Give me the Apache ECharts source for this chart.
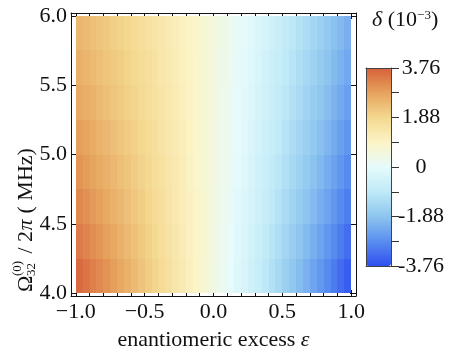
<!DOCTYPE html>
<html><head><meta charset="utf-8">
<script src="https://cdn.jsdelivr.net/npm/echarts@6/dist/echarts.min.js"></script>
<style>html,body{margin:0;padding:0;background:#fff}#c{width:456px;height:354px}</style>
</head><body><div id="c"></div>
<script>
// ---- data ----
const epsilonCenters = [-0.975,-0.925,-0.875,-0.825,-0.775,-0.725,-0.675,-0.625,-0.575,-0.525,-0.475,-0.425,-0.375,-0.325,-0.275,-0.225,-0.175,-0.125,-0.075,-0.025,0.025,0.075,0.125,0.175,0.225,0.275,0.325,0.375,0.425,0.475,0.525,0.575,0.625,0.675,0.725,0.775,0.825,0.875,0.925,0.975];
const omegaCenters = [4.125, 4.375, 4.625, 4.875, 5.125, 5.375, 5.625, 5.875];
const delta_O4125 = [3.61,3.47,3.32,3.18,3.03,2.88,2.73,2.58,2.42,2.26,2.10,1.94,1.77,1.60,1.43,1.26,1.09,0.91,0.73,0.55,0.37,0.18,-0.01,-0.20,-0.39,-0.58,-0.78,-0.98,-1.18,-1.38,-1.59,-1.80,-2.01,-2.22,-2.43,-2.65,-2.87,-3.09,-3.32,-3.54];
const delta_O4375 = [3.38,3.25,3.12,2.99,2.85,2.72,2.58,2.43,2.29,2.14,1.99,1.84,1.69,1.54,1.38,1.22,1.06,0.89,0.73,0.56,0.38,0.21,0.04,-0.14,-0.32,-0.51,-0.69,-0.88,-1.07,-1.26,-1.45,-1.65,-1.85,-2.05,-2.25,-2.45,-2.66,-2.87,-3.08,-3.29];
const delta_O4625 = [3.19,3.07,2.95,2.83,2.71,2.58,2.45,2.32,2.18,2.05,1.91,1.77,1.63,1.49,1.34,1.19,1.04,0.88,0.73,0.57,0.41,0.25,0.08,-0.09,-0.25,-0.43,-0.60,-0.78,-0.95,-1.13,-1.32,-1.50,-1.69,-1.88,-2.07,-2.27,-2.46,-2.66,-2.86,-3.06];
const delta_O4875 = [3.01,2.90,2.79,2.68,2.57,2.45,2.33,2.21,2.09,1.96,1.83,1.70,1.57,1.43,1.30,1.16,1.01,0.87,0.72,0.58,0.43,0.27,0.12,-0.04,-0.20,-0.36,-0.53,-0.69,-0.86,-1.03,-1.21,-1.38,-1.56,-1.74,-1.92,-2.11,-2.29,-2.48,-2.67,-2.87];
const delta_O5125 = [2.86,2.76,2.66,2.55,2.44,2.34,2.23,2.11,2.00,1.88,1.76,1.64,1.51,1.39,1.26,1.13,0.99,0.86,0.72,0.58,0.44,0.30,0.15,0.00,-0.15,-0.31,-0.46,-0.62,-0.78,-0.94,-1.11,-1.27,-1.44,-1.62,-1.79,-1.96,-2.14,-2.32,-2.51,-2.69];
const delta_O5375 = [2.71,2.62,2.53,2.43,2.33,2.23,2.13,2.03,1.92,1.81,1.70,1.58,1.47,1.35,1.23,1.10,0.98,0.85,0.72,0.59,0.45,0.32,0.18,0.04,-0.11,-0.25,-0.40,-0.55,-0.70,-0.86,-1.02,-1.18,-1.34,-1.50,-1.67,-1.83,-2.00,-2.18,-2.35,-2.53];
const delta_O5625 = [2.59,2.50,2.42,2.33,2.24,2.14,2.05,1.95,1.85,1.75,1.64,1.53,1.42,1.31,1.20,1.08,0.96,0.84,0.72,0.59,0.47,0.34,0.20,0.07,-0.07,-0.21,-0.35,-0.49,-0.64,-0.78,-0.93,-1.09,-1.24,-1.40,-1.56,-1.72,-1.88,-2.05,-2.21,-2.38];
const delta_O5875 = [2.48,2.40,2.32,2.23,2.15,2.06,1.97,1.88,1.79,1.69,1.59,1.49,1.39,1.28,1.17,1.06,0.95,0.84,0.72,0.60,0.48,0.36,0.23,0.10,-0.03,-0.16,-0.30,-0.43,-0.57,-0.71,-0.86,-1.00,-1.15,-1.30,-1.45,-1.61,-1.77,-1.93,-2.09,-2.25];

const xTickValues = [-1, -0.5, 0, 0.5, 1];
const xMinorTickValues = [-0.9,-0.8,-0.7,-0.6,-0.4,-0.3,-0.2,-0.1,0.1,0.2,0.3,0.4,0.6,0.7,0.8,0.9];
const yTickValues = [4, 4.5, 5, 5.5, 6];
const yMinorTickValues = [4.1,4.2,4.3,4.4,4.6,4.7,4.8,4.9,5.1,5.2,5.3,5.4,5.6,5.7,5.8,5.9];
const colorbarTickValues = [3.76, 2.82, 1.88, 0.94, 0, -0.94, -1.88, -2.82, -3.76];
const colorbarLabelValues = [3.76, 1.88, 0, -1.88, -3.76];
const deltaMin = -3.76, deltaMax = 3.76;
const colorStops = ['#2e4ff0','#5a8eef','#8dc5ef','#bfeaf7','#e6fbfc','#fcf4c6','#f4d88f','#e6a35d','#d8603a'];

// ---- build ----
const deltaRows = [delta_O4125, delta_O4375, delta_O4625, delta_O4875, delta_O5125, delta_O5375, delta_O5625, delta_O5875];
const cells = [];
omegaCenters.forEach((om, r) => epsilonCenters.forEach((e, c) => cells.push([e, om, deltaRows[r][c]])));
const dEps = epsilonCenters[1] - epsilonCenters[0];
const dOm = omegaCenters[1] - omegaCenters[0];

const FONT = 'Liberation Serif';
const FS = 22;
const INK = '#111';
const xMin = -1.035, xMax = 1.035, yMin = 3.98, yMax = 6.02;
const minus = v => (v < 0 ? '\u2212' : '') + Math.abs(v).toFixed(1);

function frameAxis(base, extra) { return Object.assign({
  type: 'value', splitLine: {show: false}, axisLabel: {show: false},
  axisLine: {show: false}, axisTick: {show: false}
}, base, extra); }

const lineStyle = {color: INK, width: 1};
const cbLine = {color: '#444', width: 1};
const chart = echarts.init(document.getElementById('c'), null, {renderer: 'canvas'});
chart.setOption({
  animation: false,
  backgroundColor: '#fff',
  grid: [
    {left: 71, top: 13, width: 285, height: 283, outerBoundsMode: 'none', containLabel: false},
    {left: 366, top: 68, width: 25, height: 198, outerBoundsMode: 'none', containLabel: false}
  ],
  xAxis: [
    frameAxis({gridIndex: 0, position: 'bottom', min: xMin, max: xMax}, {
      axisLine: {show: true, onZero: false, lineStyle},
      axisTick: {show: true, inside: true, length: 6, customValues: xTickValues, lineStyle},
      axisLabel: {show: true, customValues: xTickValues, formatter: minus, fontFamily: FONT, fontSize: FS, color: INK, margin: 5},
      name: 'enantiomeric excess {i|ε}', nameLocation: 'middle', nameGap: 33,
      nameTextStyle: {fontFamily: FONT, fontSize: FS, color: INK, rich: {i: {fontFamily: FONT, fontSize: FS, fontStyle: 'italic', color: INK}}}
    }),
    frameAxis({gridIndex: 0, position: 'bottom', min: xMin, max: xMax}, {
      axisTick: {show: true, inside: true, length: 3.5, customValues: xMinorTickValues, lineStyle}
    }),
    frameAxis({gridIndex: 0, position: 'top', min: xMin, max: xMax}, {
      axisLine: {show: true, onZero: false, lineStyle},
      axisTick: {show: true, inside: true, length: 6, customValues: xTickValues, lineStyle}
    }),
    frameAxis({gridIndex: 0, position: 'top', min: xMin, max: xMax}, {
      axisTick: {show: true, inside: true, length: 3.5, customValues: xMinorTickValues, lineStyle}
    }),
    frameAxis({gridIndex: 1, position: 'bottom', min: 0, max: 1, z: 10}, {axisLine: {show: true, onZero: false, lineStyle: cbLine}}),
    frameAxis({gridIndex: 1, position: 'top', min: 0, max: 1, z: 10}, {axisLine: {show: true, onZero: false, lineStyle: cbLine}})
  ],
  yAxis: [
    frameAxis({gridIndex: 0, position: 'left', min: yMin, max: yMax}, {
      axisLine: {show: true, onZero: false, lineStyle},
      axisTick: {show: true, inside: true, length: 6, customValues: yTickValues, lineStyle},
      axisLabel: {show: true, customValues: yTickValues, formatter: v => v.toFixed(1), fontFamily: FONT, fontSize: FS, color: INK, margin: 4}
    }),
    frameAxis({gridIndex: 0, position: 'left', min: yMin, max: yMax}, {
      axisTick: {show: true, inside: true, length: 3.5, customValues: yMinorTickValues, lineStyle}
    }),
    frameAxis({gridIndex: 0, position: 'right', min: yMin, max: yMax}, {
      axisLine: {show: true, onZero: false, lineStyle},
      axisTick: {show: true, inside: true, length: 6, customValues: yTickValues, lineStyle}
    }),
    frameAxis({gridIndex: 0, position: 'right', min: yMin, max: yMax}, {
      axisTick: {show: true, inside: true, length: 3.5, customValues: yMinorTickValues, lineStyle}
    }),
    frameAxis({gridIndex: 1, position: 'right', min: deltaMin, max: deltaMax, z: 10}, {
      axisLine: {show: true, onZero: false, lineStyle: cbLine},
      axisTick: {show: true, inside: false, length: 8, customValues: colorbarTickValues, lineStyle: {color: '#333', width: 1}},
      axisLabel: {show: true, customValues: colorbarLabelValues, formatter: v => (v === 0 ? '0' : v.toFixed(2)), align: 'center', margin: 30, fontFamily: FONT, fontSize: FS, color: INK}
    }),
    frameAxis({gridIndex: 1, position: 'left', min: deltaMin, max: deltaMax, z: 10}, {
      axisLine: {show: true, onZero: false, lineStyle: cbLine}
    })
  ],
  visualMap: {
    type: 'continuous', min: deltaMin, max: deltaMax, dimension: 2, seriesIndex: 0,
    orient: 'vertical', left: 366, top: 68, itemWidth: 25, itemHeight: 198,
    calculable: false, hoverLink: false, padding: 0, text: null,
    inRange: {color: colorStops}
  },
  series: [{
    type: 'custom', xAxisIndex: 0, yAxisIndex: 0, data: cells,
    renderItem: (params, api) => {
      const e = api.value(0), o = api.value(1);
      const p0 = api.coord([e - dEps / 2, o + dOm / 2]);
      const p1 = api.coord([e + dEps / 2, o - dOm / 2]);
      const x0 = Math.round(p0[0]), x1 = Math.round(p1[0]);
      const y0 = Math.round(p0[1]), y1 = Math.round(p1[1]);
      const col = api.visual('color');
      return {type: 'rect', shape: {x: x0, y: y0, width: x1 - x0, height: y1 - y0},
              style: {fill: col, stroke: null, lineWidth: 0}};
    }
  }],
  graphic: [
    {type: 'text', left: 372, top: 9, style: {
      text: '{i|δ} (10{s|\u22123})', fontFamily: FONT, fontSize: FS, fill: INK,
      rich: {i: {fontFamily: FONT, fontSize: FS, fontStyle: 'italic', fill: INK},
             s: {fontFamily: FONT, fontSize: 13, verticalAlign: 'top', fill: INK}}
    }},
    {type: 'group', x: 26, y: 292, rotation: Math.PI / 2, children: [
      {type: 'text', x: 0, y: 0, style: {text: 'Ω', fontFamily: FONT, fontSize: FS, fill: INK, verticalAlign: 'middle', align: 'left'}},
      {type: 'text', x: 16, y: -8, style: {text: '(0)', fontFamily: FONT, fontSize: 13, fill: INK, verticalAlign: 'middle', align: 'left'}},
      {type: 'text', x: 16, y: 6, style: {text: '32', fontFamily: FONT, fontSize: 13, fill: INK, verticalAlign: 'middle', align: 'left'}},
      {type: 'text', x: 33, y: 0, style: {text: ' / 2', fontFamily: FONT, fontSize: FS, fill: INK, verticalAlign: 'middle', align: 'left'}},
      {type: 'text', x: 61.5, y: 0, style: {text: 'π', fontFamily: FONT, fontSize: FS, fontStyle: 'italic', fill: INK, verticalAlign: 'middle', align: 'left'}},
      {type: 'text', x: 73, y: 0, style: {text: ' ( MHz)', fontFamily: FONT, fontSize: FS, fill: INK, verticalAlign: 'middle', align: 'left'}}
    ]}
  ]
});
</script></body></html>
